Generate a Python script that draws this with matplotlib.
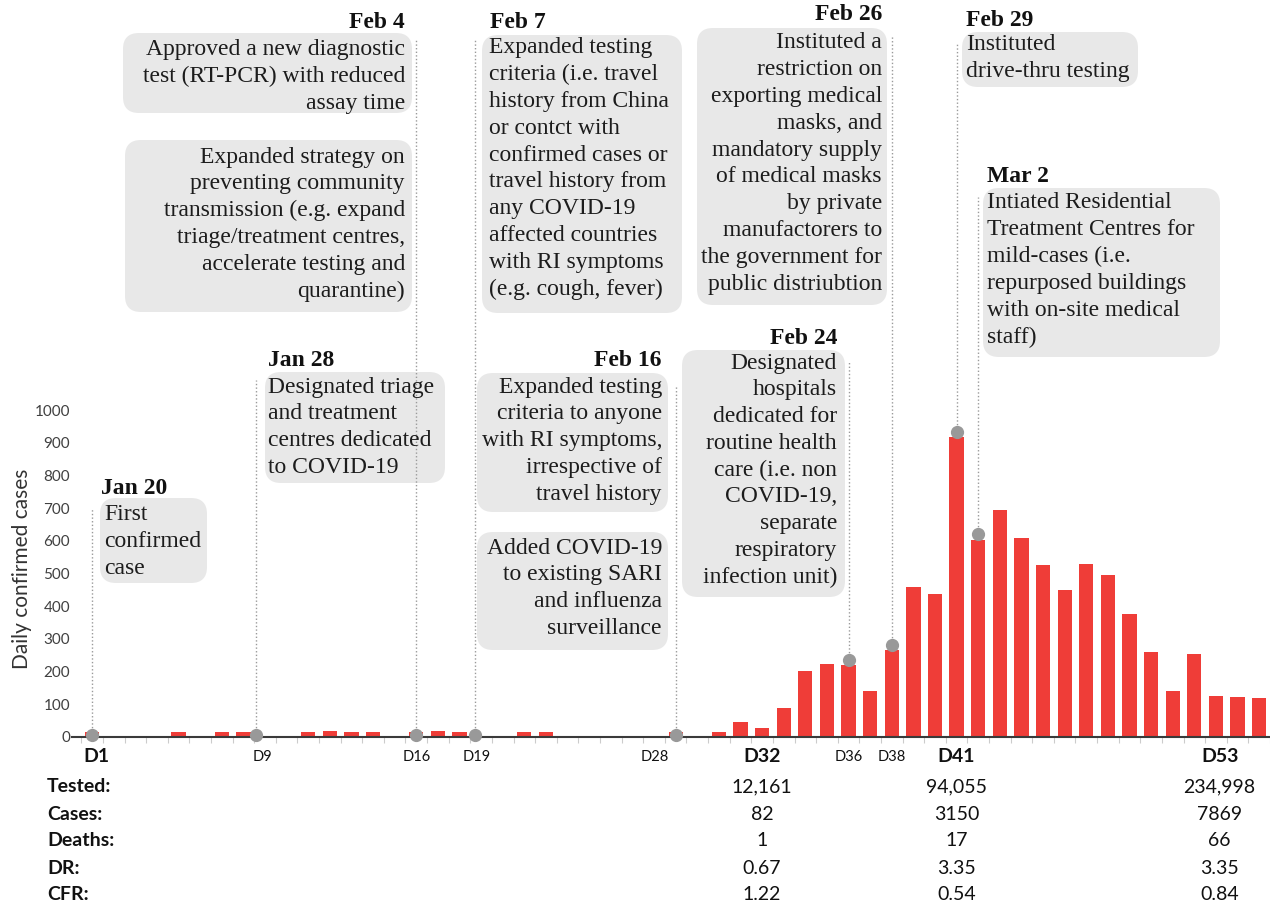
import matplotlib
matplotlib.use("Agg")
import matplotlib.pyplot as plt
import matplotlib.transforms as mtransforms
from matplotlib.patches import FancyBboxPatch

# ---------------- data ----------------
days = list(range(1, 56))
daily_cases = [13, 0, 0, 0, 13, 0, 13, 13, 0, 0,
               13, 17, 13, 13, 0, 13, 17, 13, 0, 0,
               13, 13, 0, 0, 0, 0, 0, 13, 0, 13,
               46, 26, 87, 201, 222, 219, 141, 264, 458, 437,
               918, 603, 695, 608, 527, 449, 529, 494, 376, 259,
               141, 254, 125, 122, 118]

yticks = [0, 100, 200, 300, 400, 500, 600, 700, 800, 900, 1000]

xlabel_days = [1.2, 8.9, 16, 18.8, 27.05, 32, 36, 38, 41, 53.2]
xlabel_text = ["D1", "D9", "D16", "D19", "D28", "D32", "D36", "D38", "D41", "D53"]
xlabel_bold = [True, False, False, False, False, True, False, False, True, True]

event_days = [1, 8.6, 16, 18.7, 28, 36, 38, 41, 42]
event_bar_day = [1, 9, 16, 19, 28, 36, 38, 41, 42]

table_rows = ["Tested:", "Cases:", "Deaths:", "DR:", "CFR:"]
table_cols_day = [32, 41, 53.15]
table_d32 = ["12,161", "82", "1", "0.67", "1.22"]
table_d41 = ["94,055", "3150", "17", "3.35", "0.54"]
table_d53 = ["234,998", "7869", "66", "3.35", "0.84"]

# ---------------- figure ----------------
W, H = 1270, 907
fig = plt.figure(figsize=(W / 100, H / 100), dpi=100)
pix = mtransforms.Affine2D().scale(1 / 100, -1 / 100).translate(0, H / 100) + fig.dpi_scale_trans

AX_L, AX_B = 72, 736.7
PX_PER_UNIT = 0.3267
ax = fig.add_axes([AX_L / W, (H - AX_B) / H, (W - AX_L) / W, AX_B / H])
ax.set_xlim(0.07, 0.07 + (W - AX_L) / 21.62)
ax.set_ylim(0, AX_B / PX_PER_UNIT)

SANS = ["Lato", "DejaVu Sans"]
SERIF = ["Liberation Serif", "DejaVu Serif"]
TXT = "#1c1c1c"
GRAY = "#9a9a9a"

ax.bar(days, daily_cases, width=0.66, color="#ef3d38", zorder=2)

for s in ["top", "right", "left"]:
    ax.spines[s].set_visible(False)
ax.spines["bottom"].set_color("#3a3a3a")
ax.spines["bottom"].set_linewidth(1.5)
ax.spines["bottom"].set_zorder(3)

ax.set_xticks([])
ax.set_xticks([d + 0.5 for d in range(0, 56)], minor=True)
ax.tick_params(axis="x", which="minor", length=4, color="#cccccc", width=0.8)
ax.set_yticks(yticks)
ax.set_yticklabels([str(v) for v in yticks], fontfamily=SANS, fontsize=11, color="#404040")
ax.tick_params(axis="y", length=0, pad=1.5)

fig.text(22 / W, 1 - 569 / H, "Daily confirmed cases", rotation=90, ha="center", va="center",
         fontfamily=SANS, fontsize=15, color="#333333")

xl_trans = mtransforms.blended_transform_factory(ax.transData, pix)
for d, t, b in zip(xlabel_days, xlabel_text, xlabel_bold):
    ax.text(d, 757, t, transform=xl_trans, ha="center", va="center", clip_on=False,
            fontfamily=SANS, fontsize=14 if b else 10.5,
            fontweight="bold" if b else "normal", color="#111111")

# table
row_y = [787, 814, 841, 868, 895]
for y, lab in zip(row_y, table_rows):
    ax.text(47, y, lab, transform=pix, ha="left", va="center", clip_on=False,
            fontfamily=SANS, fontsize=14, fontweight="bold", color="#111111")
for d, col in zip(table_cols_day, [table_d32, table_d41, table_d53]):
    for y, v in zip(row_y, col):
        ax.text(d, y, v, transform=xl_trans, ha="center", va="center", clip_on=False,
                fontfamily=SANS, fontsize=14, color="#111111")

# ---------------- event markers ----------------
line_top_px = [508, 380, 40, 40, 385, 362, 35, 42, 197]
px_to_data = lambda ypx: (AX_B - ypx) / PX_PER_UNIT
for xd, bd, ytop in zip(event_days, event_bar_day, line_top_px):
    v = daily_cases[days.index(bd)]
    ydot = v + 16 if v > 50 else 5
    ax.plot([xd, xd], [ydot, px_to_data(ytop)], color=GRAY, lw=1.0,
            linestyle=(0, (1, 1.6)), zorder=4, clip_on=False)
    ax.plot([xd], [ydot], "o", color="#999999", ms=8.5, zorder=5, clip_on=False)

# ---------------- annotations ----------------
LS = 26.8
BOX = "#e8e8e8"


def box(x0, y0, x1, y1):
    ax.add_patch(FancyBboxPatch((x0, y0), x1 - x0, y1 - y0,
                                boxstyle="round,pad=0,rounding_size=16",
                                transform=pix, facecolor=BOX, edgecolor="none",
                                zorder=3, clip_on=False))


def lines(x, y_first, txt, ha):
    for i, ln in enumerate(txt):
        ax.text(x, y_first + i * LS, ln, transform=pix, ha=ha, va="center",
                fontfamily=SERIF, fontsize=17, color=TXT, zorder=6, clip_on=False)


def date(x, y, txt, ha):
    ax.text(x, y, txt, transform=pix, ha=ha, va="center", fontfamily=SERIF,
            fontsize=17, fontweight="bold", color="#111111", zorder=6, clip_on=False)


# Jan 20
date(101, 488, "Jan 20", "left")
box(100, 498, 207, 583)
lines(104, 515, ["First", "confirmed", "case"], "left")

# Jan 28
date(268, 360, "Jan 28", "left")
box(265, 372, 445, 483)
lines(268, 387, ["Designated triage", "and treatment", "centres dedicated", "to COVID-19"], "left")

# Feb 4
date(405, 22, "Feb 4", "right")
box(123, 33, 412, 113)
lines(405, 50, ["Approved a new diagnostic", "test (RT-PCR) with reduced", "assay time"], "right")
box(125, 140, 412, 312)
lines(405, 157, ["Expanded strategy on", "preventing community", "transmission (e.g. expand",
                 "triage/treatment centres,", "accelerate testing and", "quarantine)"], "right")

# Feb 7
date(490, 22, "Feb 7", "left")
box(482, 35, 682, 313)
lines(489, 48, ["Expanded testing", "criteria (i.e. travel", "history from China",
                "or contct with", "confirmed cases or", "travel history from",
                "any COVID-19", "affected countries", "with RI symptoms",
                "(e.g. cough, fever)"], "left")

# Feb 16
date(662, 360, "Feb 16", "right")
box(477, 373, 668, 512)
lines(662, 387, ["Expanded testing", "criteria to anyone", "with RI symptoms,",
                 "irrespective of", "travel history"], "right")
box(477, 532, 668, 650)
lines(662, 548, ["Added COVID-19", "to existing SARI", "and influenza", "surveillance"], "right")

# Feb 24
date(837, 338, "Feb 24", "right")
box(682, 350, 845, 597)
lines(837, 363, ["Designated", "hospitals", "dedicated for", "routine health",
                 "care (i.e. non", "COVID-19,", "separate", "respiratory",
                 "infection unit)"], "right")

# Feb 26
date(882, 15, "Feb 26", "right")
box(697, 28, 887, 305)
lines(882, 43, ["Instituted a", "restriction on", "exporting medical", "masks, and",
                "mandatory supply", "of medical masks", "by private",
                "manufactorers to", "the government for", "public distriubtion"], "right")

# Feb 29
date(966, 20, "Feb 29", "left")
box(962, 32, 1138, 87)
lines(966, 45, ["Instituted", "drive-thru testing"], "left")

# Mar 2
date(987, 177, "Mar 2", "left")
box(983, 188, 1220, 357)
lines(987, 203, ["Intiated Residential", "Treatment Centres for", "mild-cases (i.e.",
                 "repurposed buildings", "with on-site medical", "staff)"], "left")

fig.savefig("out.png", dpi=100)
